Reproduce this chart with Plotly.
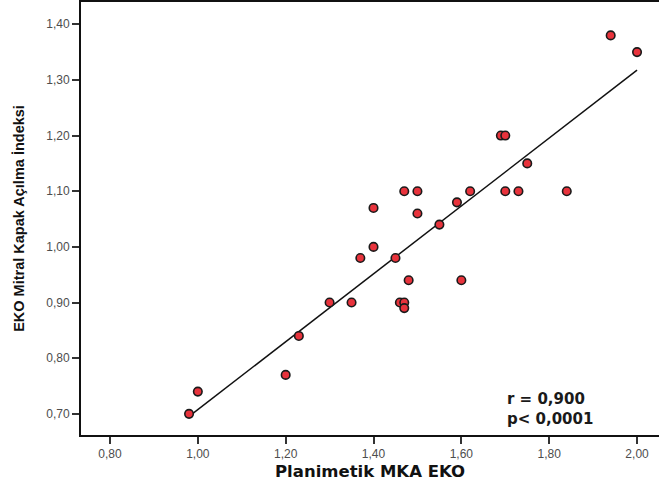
import numpy as np
import plotly.graph_objects as go

planimetric = [0.98, 1.00, 1.20, 1.23, 1.30, 1.35, 1.37, 1.40, 1.40, 1.45,
               1.46, 1.47, 1.47, 1.47, 1.48, 1.50, 1.50, 1.55, 1.59, 1.60,
               1.62, 1.69, 1.70, 1.70, 1.73, 1.75, 1.84, 1.94, 2.00]
opening_index = [0.70, 0.74, 0.77, 0.84, 0.90, 0.90, 0.98, 1.00, 1.07, 0.98,
                 0.90, 0.90, 0.89, 1.10, 0.94, 1.10, 1.06, 1.04, 1.08, 0.94,
                 1.10, 1.20, 1.20, 1.10, 1.10, 1.15, 1.10, 1.38, 1.35]

x_ticks = [0.80, 1.00, 1.20, 1.40, 1.60, 1.80, 2.00]
y_ticks = [0.70, 0.80, 0.90, 1.00, 1.10, 1.20, 1.30, 1.40]

slope, intercept = np.polyfit(planimetric, opening_index, 1)
fit_x = [min(planimetric), max(planimetric)]
fit_y = [slope * v + intercept for v in fit_x]

fig = go.Figure()
fig.add_trace(go.Scatter(x=fit_x, y=fit_y, mode="lines",
                         line=dict(color="#111111", width=1.5),
                         showlegend=False, hoverinfo="skip"))
fig.add_trace(go.Scatter(x=planimetric, y=opening_index, mode="markers",
                         marker=dict(size=8.5, color="#e8333c",
                                     line=dict(color="#1a1a1a", width=1.6)),
                         showlegend=False))

fig.add_annotation(x=0.733, y=0.06, xref="paper", yref="paper",
                   text="<b>r = 0,900<br>p< 0,0001</b>", showarrow=False,
                   align="left", xanchor="left", yanchor="middle",
                   font=dict(family="DejaVu Sans, sans-serif", size=15, color="#1a1a1a"))

fig.update_layout(
    width=659, height=483,
    margin=dict(l=81, r=0, t=2, b=48),
    paper_bgcolor="white", plot_bgcolor="white",
    separators=",.",
    font=dict(family="Liberation Sans, Arial, sans-serif"),
    xaxis=dict(range=[0.734, 2.05], tickvals=x_ticks, tickformat=".2f",
               showgrid=False, zeroline=False,
               showline=True, linecolor="#111111", linewidth=2, mirror=True,
               ticks="outside", ticklen=7, tickcolor="#333333", tickwidth=1.5,
               tickfont=dict(size=12, color="#4d4d4d"),
               title=dict(text="<b>Planimetik MKA EKO</b>", standoff=5,
                          font=dict(family="DejaVu Sans, sans-serif", size=16.5, color="#111111"))),
    yaxis=dict(range=[0.662, 1.44], tickvals=y_ticks, tickformat=".2f",
               showgrid=False, zeroline=False,
               showline=True, linecolor="#111111", linewidth=2,
               ticks="outside", ticklen=7, tickcolor="#333333", tickwidth=1.5,
               tickfont=dict(size=12, color="#4d4d4d"),
               title=dict(text="<b>EKO Mitral Kapak Açılma İndeksi</b>", standoff=18,
                          font=dict(family="Liberation Sans, Arial, sans-serif",
                                    size=14.5, color="#111111"))),
)

fig.write_html("out.html")
